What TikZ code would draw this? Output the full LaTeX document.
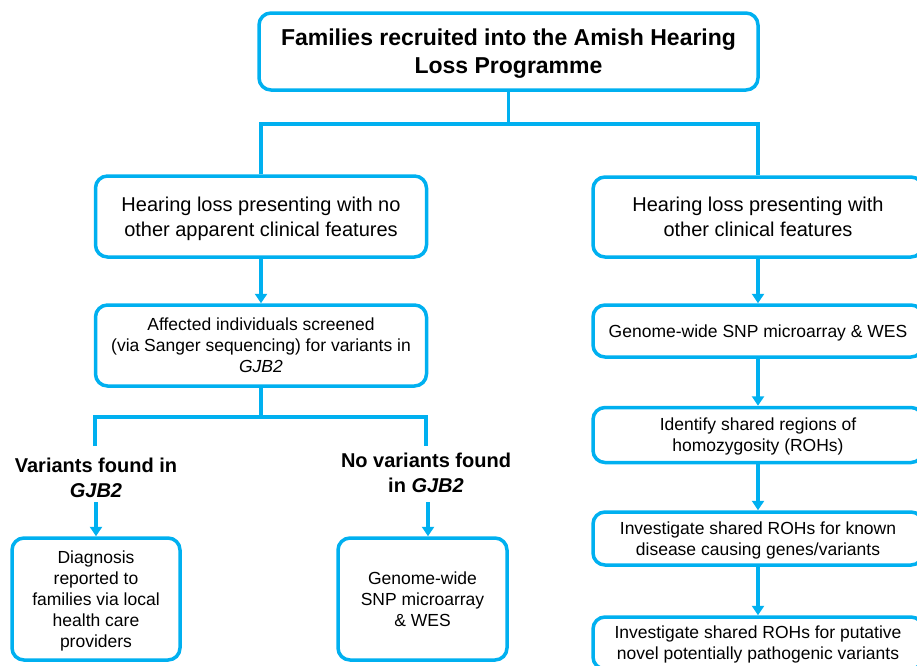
\documentclass[tikz,border=0pt]{standalone}
\usepackage{fontspec}
\setmainfont{Liberation Sans}
\usetikzlibrary{arrows.meta}
\definecolor{flowblue}{HTML}{00B0F0}
\begin{document}
\begin{tikzpicture}[x=1pt,y=-1pt,
  box/.style={draw=flowblue, line width=3.5pt, rounded corners=12pt,
    align=center, inner sep=0pt, text depth=0pt, fill=white},
  link/.style={draw=flowblue, line width=3.5pt},
  arr/.style={link, -{Triangle[width=12pt,length=9.5pt]}},
  bigtxt/.style={font=\fontsize{20}{25}\selectfont},
  smalltxt/.style={font=\fontsize{17.5}{21}\selectfont},
  titletxt/.style={font=\fontsize{23}{28}\selectfont\bfseries},
  lab/.style={font=\fontsize{20}{25}\selectfont\bfseries, align=center, inner sep=0pt},
]
\useasboundingbox (0,0) rectangle (917,665);
\clip (0,0) rectangle (917,665);

% top box
\node[box, titletxt, minimum width=499pt, minimum height=77pt] (top) at (508.5,51.5)
  {Families recruited into the Amish Hearing\\Loss Programme};

% second row
\node[box, bigtxt, minimum width=331pt, minimum height=81pt] (L2) at (261,216.5)
  {Hearing loss presenting with no\\other apparent clinical features};
\node[box, bigtxt, minimum width=330pt, minimum height=80pt] (R2) at (758,217)
  {Hearing loss presenting with\\other clinical features};

% left branch
\node[box, smalltxt, minimum width=331pt, minimum height=81pt] (L3) at (261,345.5)
  {Affected individuals screened\\(via Sanger sequencing) for variants in\\\textit{GJB2}};
\node[lab] (lab1) at (96,477.5) {Variants found in\\\textit{GJB2}};
\node[lab] (lab2) at (426,472.5) {No variants found\\in \textit{GJB2}};
\node[box, smalltxt, minimum width=168pt, minimum height=122pt] (L4) at (96,599)
  {Diagnosis\\reported to\\families via local\\health care\\providers};
\node[box, smalltxt, minimum width=169pt, minimum height=122pt] (M4) at (422.5,599)
  {Genome-wide\\SNP microarray\\\& WES};

% right branch
\node[box, smalltxt, minimum width=330pt, minimum height=52pt] (R3) at (758,331)
  {Genome-wide SNP microarray \& WES};
\node[box, smalltxt, minimum width=330pt, minimum height=55pt] (R4) at (758,435)
  {Identify shared regions of\\homozygosity (ROHs)};
\node[box, smalltxt, minimum width=330pt, minimum height=53pt] (R5) at (758,538.5)
  {Investigate shared ROHs for known\\disease causing genes/variants};
\node[box, smalltxt, minimum width=330pt, minimum height=52pt] (R6) at (758,643)
  {Investigate shared ROHs for putative\\novel potentially pathogenic variants};

% junctions and connector ends
\coordinate (j1) at (508.5,124);
\coordinate (j2) at (261,417);
\coordinate (v1) at (95,446);
\coordinate (v2) at (426,446);
\coordinate (a1) at (96,502);
\coordinate (a2) at (428,502);

% connectors
\draw[link] (top.south) -- (j1);
\draw[link] (L2.north) |- (j1) -| (R2.north);
\draw[arr] (L2.south) -- (L3.north);
\draw[link] (L3.south) -- (j2);
\draw[link] (v1) |- (j2) -| (v2);
\draw[arr] (a1) -- (L4.north);
\draw[arr] (a2) -- (a2 |- M4.north);
\draw[arr] (R2.south) -- (R3.north);
\draw[arr] (R3.south) -- (R4.north);
\draw[arr] (R4.south) -- (R5.north);
\draw[arr] (R5.south) -- (R6.north);
\end{tikzpicture}
\end{document}
